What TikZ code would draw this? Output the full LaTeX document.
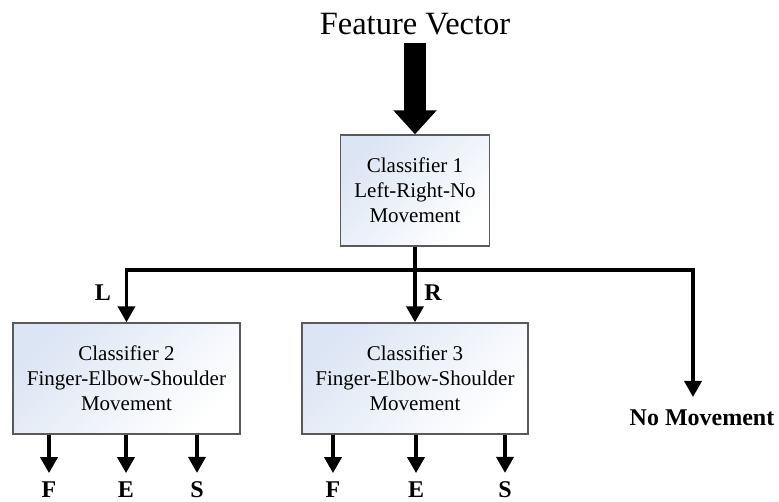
\documentclass[tikz,border=0pt]{standalone}
\usepackage{fontspec}
\setmainfont{Liberation Serif}
\usetikzlibrary{arrows.meta}
\definecolor{boxfill}{HTML}{DCE5F4}
\definecolor{boxline}{HTML}{5A5A5A}
\begin{document}
\begin{tikzpicture}[x=1pt,y=-1pt,
  cbox/.style={draw=boxline, line width=1.4pt, top color=boxfill, bottom color=white, shading angle=45,
    minimum height=111pt, align=center, inner sep=0pt,
    font=\fontsize{21}{25}\selectfont},
  arr/.style={line width=3.6pt, -{Triangle[length=16pt,width=17pt]}},
  lab/.style={font=\fontsize{24}{28}\selectfont\bfseries, inner sep=0pt, anchor=base},
  bigarrow/.style={line width=22pt, -{Triangle[length=24pt,width=42pt]}}
]
\useasboundingbox (0,0) rectangle (779,502);
% title
\node[font=\fontsize{32.5}{38}\selectfont, inner sep=0pt, anchor=base] (fv) at (415,35) {Feature Vector};
\coordinate (fvb) at (415,43);
% boxes
\node[cbox, minimum width=149pt] (c1) at (415,190.5) {Classifier 1\\Left-Right-No\\Movement};
\node[cbox, minimum width=227pt] (c2) at (126.5,378.5) {Classifier 2\\Finger-Elbow-Shoulder\\Movement};
\node[cbox, minimum width=226pt] (c3) at (415,378.5) {Classifier 3\\Finger-Elbow-Shoulder\\Movement};
% big arrow
\draw[bigarrow] (fvb) -- (c1.north);
% split
\coordinate (j) at (415,270);
\coordinate (nmtop) at (693,397);
\draw[arr] (c1.south) -- (c3.north);
\draw[arr] (j) -| (c2.north);
\draw[arr] (j) -| (nmtop);
% labels L R
\node[lab] (L) at (103,301) {L};
\node[lab] (R) at (433,301) {R};
\node[lab] (nm) at (702,425) {No Movement};
% outputs
\node[lab] (f2) at (49,497) {F};
\node[lab] (e2) at (126,497) {E};
\node[lab] (s2) at (197,497) {S};
\node[lab] (f3) at (333,497) {F};
\node[lab] (e3) at (416,497) {E};
\node[lab] (s3) at (505,497) {S};
\foreach \n/\b in {f2/c2,e2/c2,s2/c2,f3/c3,e3/c3,s3/c3}{
  \draw[arr, shorten >=8pt] (\b.south -| \n) -- (\n.north);
}
\end{tikzpicture}
\end{document}
